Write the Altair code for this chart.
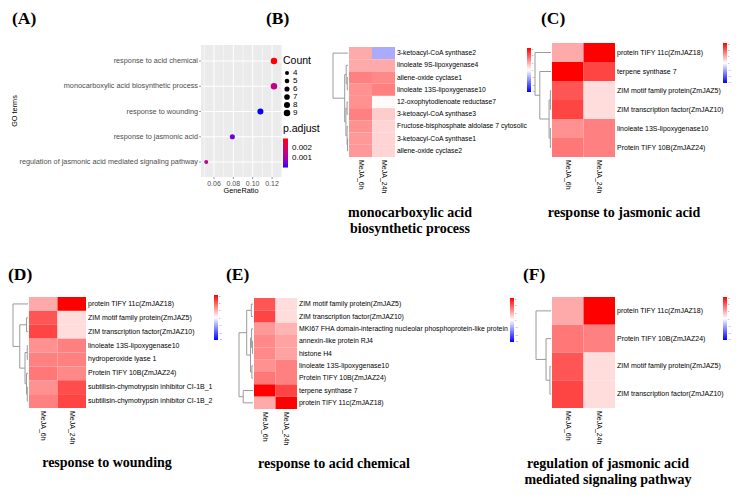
import altair as alt
import pandas as pd

OFF = 8
W, H = 723, 479
SANS = "Liberation Sans"
SERIF = "Liberation Serif"

# ---------------- Panel A data (GO enrichment dot plot) ----------------
go_terms = [
    "response to acid chemical",
    "monocarboxylic acid biosynthetic process",
    "response to wounding",
    "response to jasmonic acid",
    "regulation of jasmonic acid mediated signaling pathway",
]
gene_ratio = [0.122, 0.122, 0.108, 0.079, 0.052]
gene_count = [9, 9, 8, 6, 4]
p_adjust = [0.0029, 0.0016, 0.0001, 0.0005, 0.0015]
ratio_ticks = [0.06, 0.08, 0.10, 0.12]
ratio_tick_labels = ["0.06", "0.08", "0.10", "0.12"]
ratio_minor = [0.05, 0.07, 0.09, 0.11, 0.13]
count_legend_values = [4, 5, 6, 7, 8, 9]
padj_legend_values = [0.001, 0.002]

# ---------------- Heatmap data ----------------
conditions = ["MeJA_6h", "MeJA_24h"]
heat_legend_values = [-3, -2, -1, 0, 1, 2, 3]

B_genes = ["3-ketoacyl-CoA synthase2", "linoleate 9S-lipoxygenase4", "allene-oxide cyclase1",
           "linoleate 13S-lipoxygenase10", "12-oxophytodienoate reductase7", "3-ketoacyl-CoA synthase3",
           "Fructose-bisphosphate aldolase 7 cytosolic", "3-ketoacyl-CoA synthase1", "allene-oxide cyclase2"]
B_6h = [1.0, 1.0, 1.5, 1.3, 1.3, 1.5, 1.3, 1.2, 1.2]
B_24h = [-1.0, 1.0, 1.4, 1.5, 0.05, 0.6, 0.5, 0.5, 0.5]
B_merge = [(-3, -4), (-2, 1), (-5, -6), (-8, -9), (-7, 4), (3, 5), (2, 6), (-1, 7)]
B_height = [0.05, 0.12, 0.06, 0.03, 0.06, 0.14, 0.22, 1.0]

C_genes = ["protein TIFY 11c(ZmJAZ18)", "terpene synthase 7", "ZIM motif family protein(ZmJAZ5)",
           "ZIM transcription factor(ZmJAZ10)", "linoleate 13S-lipoxygenase10", "Protein TIFY 10B(ZmJAZ24)"]
C_6h = [1.0, 3.0, 2.0, 2.2, 1.3, 1.6]
C_24h = [3.0, 2.2, 0.4, 0.4, 1.5, 1.5]
C_merge = [(-3, -4), (-5, -6), (1, 2), (-2, 3), (-1, 4)]
C_height = [0.04, 0.04, 0.12, 0.7, 1.0]

D_genes = ["protein TIFY 11c(ZmJAZ18)", "ZIM motif family protein(ZmJAZ5)", "ZIM transcription factor(ZmJAZ10)",
           "linoleate 13S-lipoxygenase10", "hydroperoxide lyase 1", "Protein TIFY 10B(ZmJAZ24)",
           "subtilisin-chymotrypsin inhibitor CI-1B_1", "subtilisin-chymotrypsin inhibitor CI-1B_2"]
D_6h = [1.0, 2.0, 2.2, 1.3, 1.5, 1.6, 1.3, 1.5]
D_24h = [3.0, 0.4, 0.4, 1.5, 1.5, 1.4, 2.1, 2.2]
D_merge = [(-2, -3), (-4, -5), (-7, -8), (-6, 3), (2, 4), (1, 5), (-1, 6)]
D_height = [0.1, 0.05, 0.05, 0.1, 0.2, 0.55, 1.0]

E_genes = ["ZIM motif family protein(ZmJAZ5)", "ZIM transcription factor(ZmJAZ10)",
           "MKI67 FHA domain-interacting nucleolar phosphoprotein-like protein", "annexin-like protein RJ4",
           "histone H4", "linoleate 13S-lipoxygenase10", "Protein TIFY 10B(ZmJAZ24)", "terpene synthase 7",
           "protein TIFY 11c(ZmJAZ18)"]
E_6h = [2.0, 2.2, 1.2, 1.4, 1.4, 1.3, 1.6, 3.0, 1.0]
E_24h = [0.4, 0.4, 0.9, 1.1, 1.1, 1.5, 1.5, 2.2, 3.0]
E_merge = [(-1, -2), (-4, -5), (-3, 2), (-6, -7), (3, 4), (1, 5), (-8, -9), (6, 7)]
E_height = [0.12, 0.04, 0.1, 0.08, 0.18, 0.45, 0.7, 1.0]

F_genes = ["protein TIFY 11c(ZmJAZ18)", "Protein TIFY 10B(ZmJAZ24)", "ZIM motif family protein(ZmJAZ5)",
           "ZIM transcription factor(ZmJAZ10)"]
F_6h = [1.0, 1.6, 2.0, 2.2]
F_24h = [3.0, 1.5, 0.4, 0.4]
F_merge = [(-3, -4), (-2, 1), (-1, 2)]
F_height = [0.07, 0.33, 1.0]

panel_letters = ["(A)", "(B)", "(C)", "(D)", "(E)", "(F)"]
panel_titles = ["", "monocarboxylic acid\nbiosynthetic process", "response to jasmonic acid",
                "response to wounding", "response to acid chemical",
                "regulation of jasmonic acid\nmediated signaling pathway"]

# ---------------- layout (page pixel coordinates) ----------------
letter_pos = [(12, 24), (266, 24), (541, 24), (8, 280), (226, 280), (523, 280)]
geomB = dict(x0=349, x1=395, y0=47, y1=157, lx=397, root=333, cly=160, lgx=527, lgy=48, lgl=44, fs=6.8, tx=410, ty=217)
geomC = dict(x0=552, x1=615, y0=43, y1=157, lx=617, root=535, cly=160, lgx=723, lgy=43, lgl=40, fs=7.0, tx=624, ty=217)
geomD = dict(x0=29, x1=86, y0=297, y1=408, lx=88, root=13, cly=411, lgx=214, lgy=295, lgl=45, fs=7.0, tx=107, ty=467)
geomE = dict(x0=254, x1=297, y0=298, y1=409, lx=299, root=239, cly=412, lgx=510, lgy=298, lgl=44, fs=6.9, tx=334, ty=468)
geomF = dict(x0=552, x1=615, y0=297, y1=408, lx=617, root=536, cly=411, lgx=723, lgy=297, lgl=43, fs=7.0, tx=608, ty=468)

one = pd.DataFrame({"k": [0]})


def dendro_segments(merge, height):
    pos = {}
    segs = []

    def get(c):
        if c < 0:
            return (-c - 1, 0.0)
        return pos[c]

    for k, ((a, b), h) in enumerate(zip(merge, height), start=1):
        ya, ha = get(a)
        yb, hb = get(b)
        segs.append(dict(h1=h, h2=h, r1=ya, r2=yb))
        segs.append(dict(h1=ha, h2=h, r1=ya, r2=ya))
        segs.append(dict(h1=hb, h2=h, r1=yb, r2=yb))
        pos[k] = ((ya + yb) / 2.0, h)
    return pd.DataFrame(segs)


def heatmap_layers(genes, v6, v24, merge, height, g):
    n = len(genes)
    df = pd.DataFrame({
        "gene": list(genes) * 2,
        "cond": [conditions[0]] * n + [conditions[1]] * n,
        "value": list(v6) + list(v24),
    })
    xs = alt.Scale(domain=conditions, range=[g["x0"] - OFF, g["x1"] - OFF], paddingInner=0, paddingOuter=0)
    ys = alt.Scale(domain=genes, range=[g["y0"] - OFF, g["y1"] - OFF], paddingInner=0, paddingOuter=0)
    cs = alt.Scale(domain=[-3, 0, 3], range=["#0000FF", "#FFFFFF", "#FF0000"], interpolate="rgb")
    rect = alt.Chart(df).mark_rect().encode(
        x=alt.X("cond:N", scale=xs, axis=None),
        y=alt.Y("gene:N", scale=ys, axis=None),
        color=alt.Color("value:Q", scale=cs, legend=alt.Legend(
            orient="none", legendX=g["lgx"] - OFF, legendY=g["lgy"] - OFF, direction="vertical",
            gradientLength=g["lgl"], gradientThickness=4, title=None, values=heat_legend_values,
            labelFontSize=2.2, labelOffset=1, gradientStrokeWidth=0, padding=0, labelColor="#555555")),
    )
    labels = alt.Chart(pd.DataFrame({"gene": genes})).mark_text(
        align="left", baseline="middle", font=SANS, fontSize=g["fs"], color="black").encode(
        y=alt.Y("gene:N", scale=ys, axis=None), x=alt.value(g["lx"] - OFF), text="gene:N")
    collab = alt.Chart(pd.DataFrame({"cond": conditions})).mark_text(
        align="left", baseline="middle", angle=90, font=SANS, fontSize=7, color="black").encode(
        x=alt.X("cond:N", scale=xs, axis=None), y=alt.value(g["cly"] - OFF), text="cond:N")
    seg = dendro_segments(merge, height)
    dx = alt.Scale(domain=[0, max(height)], range=[g["x0"] - 1 - OFF, g["root"] - OFF], nice=False, zero=False)
    dy = alt.Scale(domain=[-0.5, n - 0.5], range=[g["y0"] - OFF, g["y1"] - OFF], nice=False, zero=False)
    dendro = alt.Chart(seg).mark_rule(color="#9A9A9A", strokeWidth=1).encode(
        x=alt.X("h1:Q", scale=dx, axis=None), x2="h2:Q",
        y=alt.Y("r1:Q", scale=dy, axis=None), y2="r2:Q")
    return [rect, labels, collab, dendro]


def title_layer(text, x, y):
    return alt.Chart(one).mark_text(
        font=SERIF, fontWeight="bold", fontSize=14, align="center", baseline="alphabetic",
        lineBreak="\n", lineHeight=15.5, color="black").encode(
        x=alt.value(x - OFF), y=alt.value(y - OFF), text=alt.value(text))


def letter_layer(text, x, y):
    return alt.Chart(one).mark_text(
        font=SERIF, fontWeight="bold", fontSize=17.5, align="left", baseline="alphabetic",
        color="black").encode(x=alt.value(x - OFF), y=alt.value(y - OFF), text=alt.value(text))


# ---------------- Panel A ----------------
A_left, A_right, A_top, A_bottom = 201, 282, 45, 177
dfA = pd.DataFrame({"term": go_terms, "ratio": gene_ratio, "count": gene_count, "padj": p_adjust})
xA = alt.Scale(domain=[0.0466, 0.1303], range=[A_left - OFF, A_right - OFF], nice=False, zero=False)
yA = alt.Scale(type="point", domain=go_terms, range=[61 - OFF, 162 - OFF], padding=0)
sizeA = alt.Scale(domain=[4, 9], range=[16, 42])

A_bg = alt.Chart(one).mark_rect(color="#EBEBEB").encode(
    x=alt.value(A_left - OFF), x2=alt.value(A_right - OFF), y=alt.value(A_top - OFF), y2=alt.value(A_bottom - OFF))
A_gmin = alt.Chart(pd.DataFrame({"t": ratio_minor})).mark_rule(color="white", strokeWidth=0.5).encode(
    x=alt.X("t:Q", scale=xA, axis=None), y=alt.value(A_top - OFF), y2=alt.value(A_bottom - OFF))
A_gmaj = alt.Chart(pd.DataFrame({"t": ratio_ticks})).mark_rule(color="white", strokeWidth=1).encode(
    x=alt.X("t:Q", scale=xA, axis=None), y=alt.value(A_top - OFF), y2=alt.value(A_bottom - OFF))
A_gy = alt.Chart(pd.DataFrame({"term": go_terms})).mark_rule(color="white", strokeWidth=1).encode(
    y=alt.Y("term:N", scale=yA, axis=None), x=alt.value(A_left - OFF), x2=alt.value(A_right - OFF))
A_pts = alt.Chart(dfA).mark_circle(opacity=1).encode(
    x=alt.X("ratio:Q", scale=xA, axis=None),
    y=alt.Y("term:N", scale=yA, axis=None),
    size=alt.Size("count:Q", scale=sizeA, legend=None),
    color=alt.Color("padj:Q", scale=alt.Scale(domain=[0.0001, 0.0029], range=["#0000FF", "#FF0000"], interpolate="lab"),
                    legend=alt.Legend(
        title="p.adjust", orient="none", legendX=283 - OFF, legendY=124 - OFF, type="gradient",
        direction="vertical", gradientLength=29, gradientThickness=5, values=padj_legend_values, format=".3f",
        titleFont=SANS, titleFontSize=10.5, titleFontWeight="normal", titleColor="black", titlePadding=4,
        labelFont=SANS, labelFontSize=8, labelColor="black", gradientStrokeWidth=0, labelOffset=4, padding=0)),
)
# Count legend (size key)
cleg_y = alt.Scale(type="point", domain=count_legend_values, range=[73 - OFF, 113 - OFF], padding=0)
cleg_df = pd.DataFrame({"c": count_legend_values})
A_cleg_title = alt.Chart(one).mark_text(font=SANS, fontSize=10.5, color="black", align="left", baseline="middle").encode(
    x=alt.value(283 - OFF), y=alt.value(61 - OFF), text=alt.value("Count"))
A_cleg_sym = alt.Chart(cleg_df).mark_circle(color="black", opacity=1).encode(
    y=alt.Y("c:O", scale=cleg_y, axis=None), x=alt.value(287 - OFF),
    size=alt.Size("c:Q", scale=sizeA, legend=None))
A_cleg_lab = alt.Chart(cleg_df).mark_text(font=SANS, fontSize=8, color="black", align="left", baseline="middle").encode(
    y=alt.Y("c:O", scale=cleg_y, axis=None), x=alt.value(293 - OFF), text="c:O")

A_ylab = alt.Chart(pd.DataFrame({"term": go_terms})).mark_text(
    align="right", baseline="middle", font=SANS, fontSize=7.3, color="#4D4D4D").encode(
    y=alt.Y("term:N", scale=yA, axis=None), x=alt.value(198 - OFF), text="term:N")
A_ytick = alt.Chart(pd.DataFrame({"term": go_terms})).mark_rule(color="#333333", strokeWidth=0.5).encode(
    y=alt.Y("term:N", scale=yA, axis=None), x=alt.value(199 - OFF), x2=alt.value(A_left - OFF))
A_xtick = alt.Chart(pd.DataFrame({"t": ratio_ticks})).mark_rule(color="#333333", strokeWidth=0.5).encode(
    x=alt.X("t:Q", scale=xA, axis=None), y=alt.value(A_bottom - OFF), y2=alt.value(A_bottom + 2 - OFF))
A_xlab = alt.Chart(pd.DataFrame({"t": ratio_ticks, "lab": ratio_tick_labels})).mark_text(
    align="center", baseline="top", font=SANS, fontSize=7, color="#4D4D4D").encode(
    x=alt.X("t:Q", scale=xA, axis=None), y=alt.value(A_bottom + 2.5 - OFF), text="lab:N")
A_xtitle = alt.Chart(one).mark_text(font=SANS, fontSize=7.3, color="black", baseline="middle").encode(
    x=alt.value(241 - OFF), y=alt.value(191 - OFF), text=alt.value("GeneRatio"))
A_ytitle = alt.Chart(one).mark_text(font=SANS, fontSize=7.3, color="black", baseline="middle", angle=270).encode(
    x=alt.value(15 - OFF), y=alt.value(111 - OFF), text=alt.value("GO terms"))

layers = [A_bg, A_gmin, A_gmaj, A_gy, A_pts, A_cleg_title, A_cleg_sym, A_cleg_lab,
          A_ylab, A_ytick, A_xtick, A_xlab, A_xtitle, A_ytitle]
layers += heatmap_layers(B_genes, B_6h, B_24h, B_merge, B_height, geomB)
layers += heatmap_layers(C_genes, C_6h, C_24h, C_merge, C_height, geomC)
layers += heatmap_layers(D_genes, D_6h, D_24h, D_merge, D_height, geomD)
layers += heatmap_layers(E_genes, E_6h, E_24h, E_merge, E_height, geomE)
layers += heatmap_layers(F_genes, F_6h, F_24h, F_merge, F_height, geomF)

for g, t in zip([geomB, geomC, geomD, geomE, geomF], panel_titles[1:]):
    layers.append(title_layer(t, g["tx"], g["ty"]))
for lt, (lx, ly) in zip(panel_letters, letter_pos):
    layers.append(letter_layer(lt, lx, ly))

chart = alt.layer(*layers).resolve_scale(
    x="independent", y="independent", color="independent", size="independent"
).properties(
    width=W, height=H, autosize=alt.AutoSizeParams(type="none"), padding=0
).configure_view(stroke=None)

chart.save("out.html", embed_options={"renderer": "svg", "actions": False})
